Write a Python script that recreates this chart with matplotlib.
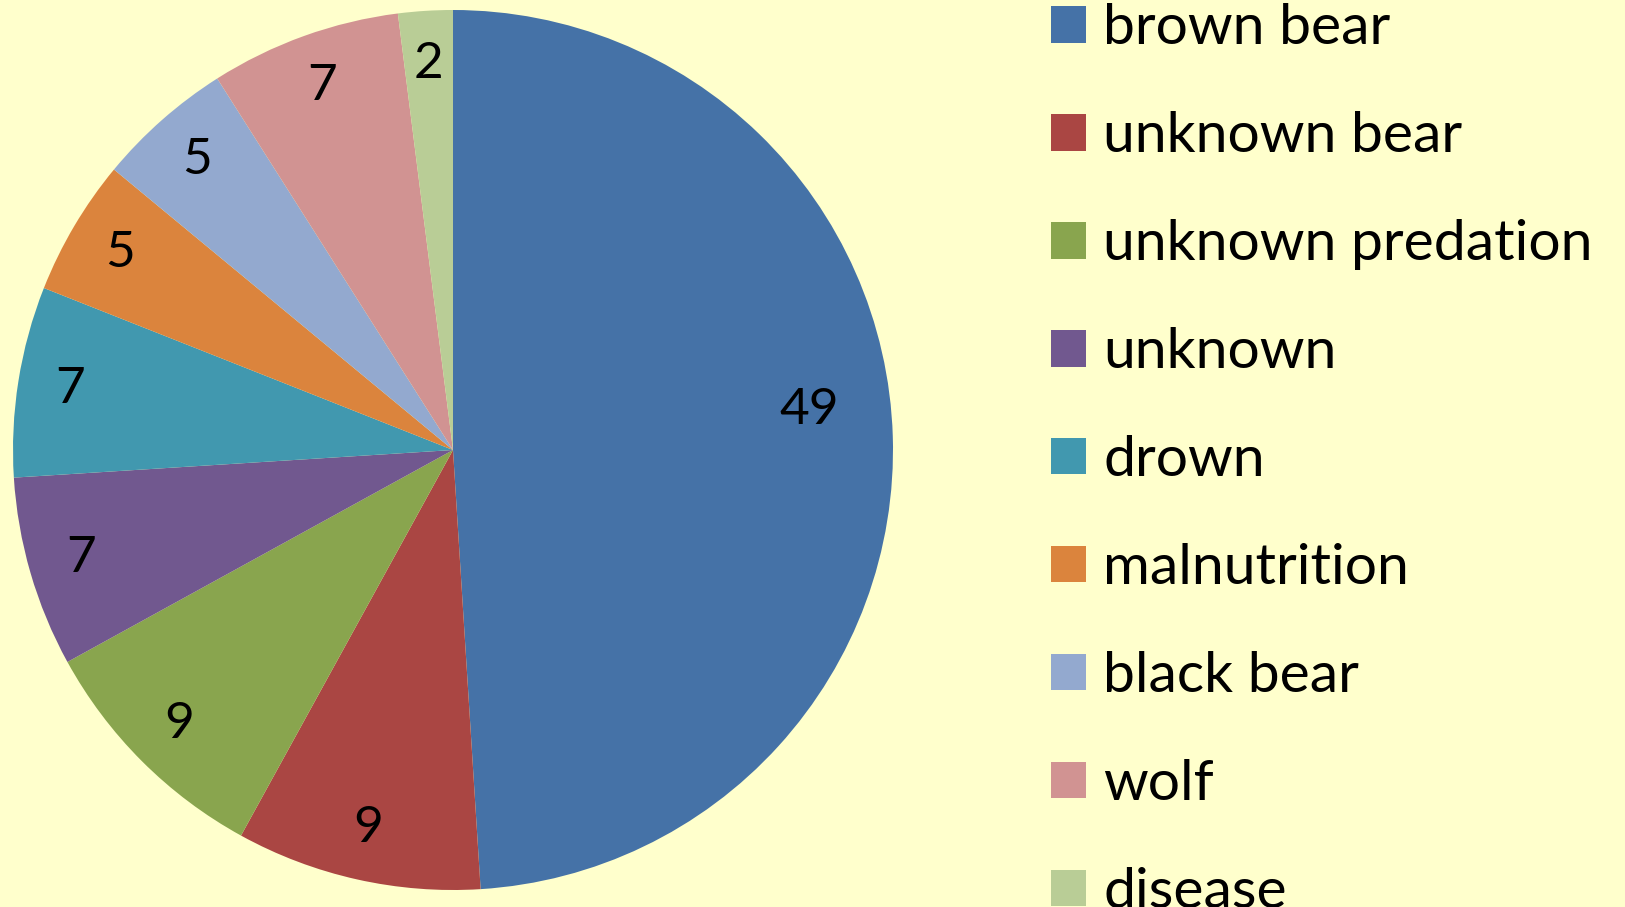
import matplotlib
matplotlib.use('Agg')
import matplotlib.pyplot as plt
from matplotlib.patches import Patch

# causes of death, counted clockwise from 12 o'clock
causes = ['brown bear', 'unknown bear', 'unknown predation', 'unknown',
          'drown', 'malnutrition', 'black bear', 'wolf', 'disease']
counts = [49, 9, 9, 7, 7, 5, 5, 7, 2]
colors = ['#4572A7', '#AA4643', '#89A54E', '#71588F', '#4198AF',
          '#DB843D', '#93A9CF', '#D19392', '#B9CD96']

bg = '#FFFFCC'
plt.rcParams['font.family'] = ['Lato', 'DejaVu Sans']

W, H = 1625, 907
fig = plt.figure(figsize=(W / 100, H / 100), dpi=100, facecolor=bg)
# pie centred at (453, 450) px with radius 440 px
ax = fig.add_axes([(453 - 440) / W, (H - 450 - 440) / H, 880 / W, 880 / H])
ax.set_facecolor(bg)

wedges, texts = ax.pie(counts, colors=colors, startangle=90, counterclock=False,
                       labels=[str(c) for c in counts], labeldistance=0.88,
                       radius=1.0, textprops={'fontsize': 37, 'color': 'black'},
                       wedgeprops={'linewidth': 0})
for t in texts:
    t.set_horizontalalignment('center')
    t.set_verticalalignment('center')
# the big slice label sits a bit further in
texts[0].set_position((0.81, 0.09))

ax.set_xlim(-1, 1)
ax.set_ylim(-1, 1)
ax.set_aspect('equal')
ax.axis('off')

handles = [Patch(facecolor=c, edgecolor='none') for c in colors]
fig.legend(handles, causes, loc='upper left',
           bbox_to_anchor=(1040 / W, 1 + 8 / H),
           frameon=False, fontsize=41, handlelength=0.615, handleheight=0.615,
           handletextpad=0.3, labelspacing=1.0, borderaxespad=0, borderpad=0.2)

fig.savefig('out.png', dpi=100, facecolor=bg)
